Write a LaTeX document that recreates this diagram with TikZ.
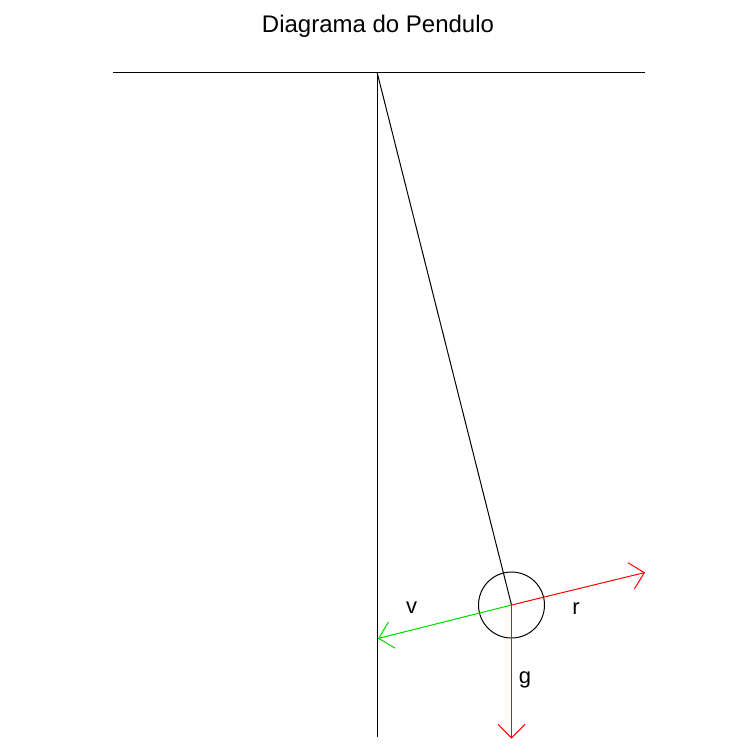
\documentclass[tikz,border=0pt]{standalone}
\usepackage{fontspec}
\setmainfont{Liberation Sans}
\usetikzlibrary{arrows.meta}
\begin{document}
\begin{tikzpicture}[x=1pt,y=-1pt,
  lbl/.style={font=\fontsize{22}{24}\selectfont, inner sep=0pt},
  vec/.style={line width=1pt, -{Straight Barb[length=13.5pt,width=27pt,line width=1pt]}},
  blk/.style={line width=1pt, black}]
\fill[white] (0,0) rectangle (738,753);
\useasboundingbox (0,0) rectangle (738,753);
\node[lbl, font=\fontsize{24}{26}\selectfont] (title) at (378,26) {Diagrama do Pendulo};
\coordinate (L) at (113,72);
\coordinate (R) at (645,72);
\coordinate (P) at (377,72);
\coordinate (B) at (377,737);
\coordinate (C) at (511.5,605);
\coordinate (rt) at (645,572.5);
\coordinate (vt) at (378,638.5);
\coordinate (gt) at (511.5,738.5);
\draw[blk] (L) -- (R);
\draw[blk] (P) -- (B);
\draw[blk] (P) -- (C);
\node[draw, circle, line width=1pt, minimum size=66pt, inner sep=0pt] (bob) at (C) {};
\draw[vec, red] (C) -- (rt);
\draw[vec, green!85!black] (C) -- (vt);
\draw[vec, red] (C) -- (gt);
\node[lbl] (v) at (411.5,608) {v};
\node[lbl] (r) at (576,609) {r};
\node[lbl] (g) at (525,680) {g};
\end{tikzpicture}
\end{document}
